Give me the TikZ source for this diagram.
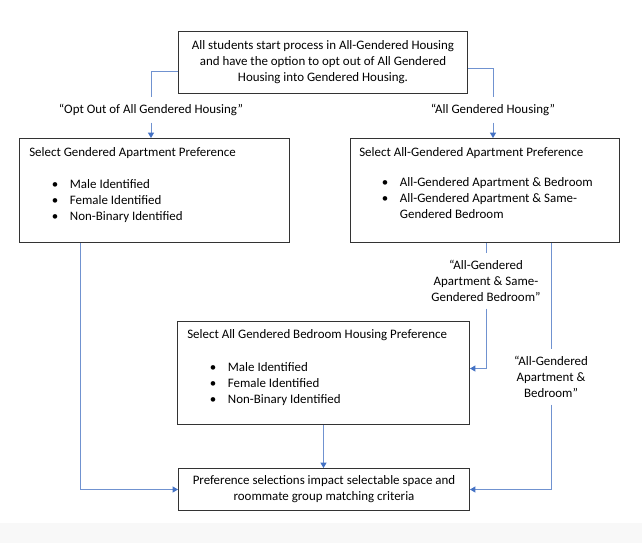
\documentclass[tikz,border=0pt]{standalone}
\usepackage{fontspec}
\setmainfont{Carlito}
\usetikzlibrary{arrows.meta,calc}
\definecolor{conn}{RGB}{112,146,208}
\definecolor{arrowc}{RGB}{68,114,196}
\definecolor{bandgray}{RGB}{248,248,248}
\newcommand\bitem[1]{\hspace*{17pt}\makebox[13.5pt][l]{\textbullet}#1}
\begin{document}
\begin{tikzpicture}[x=0.75pt,y=-0.75pt,
  font=\fontsize{9.7pt}{12pt}\selectfont,
  boxnode/.style={draw=black!80, line width=0.75pt, inner sep=0pt, anchor=north west},
  link/.style={draw=conn, line width=0.7pt},
  arr/.style={link, -{Triangle[width=4.5pt,length=4pt,color=arrowc]}},
  lab/.style={align=center, inner xsep=2pt, inner ysep=5pt},
  body/.style={align=left, inner sep=0pt, anchor=north west}]

\useasboundingbox (0,0) rectangle (642,543);
\fill[bandgray] (0,523) rectangle (642,543);

% boxes
\node[boxnode, minimum width=216.75pt, minimum height=46.5pt, align=center] (T) at (178,31)
  {All students start process in All-Gendered Housing\\and have the option to opt out of All Gendered\\Housing into Gendered Housing.};
\node[boxnode, minimum width=202.5pt, minimum height=78pt] (L) at (19,138) {};
\node[boxnode, minimum width=201.75pt, minimum height=78pt] (R) at (350,138) {};
\node[boxnode, minimum width=219pt, minimum height=77.25pt] (M) at (177,321) {};
\node[boxnode, minimum width=218.25pt, minimum height=31.5pt, align=center] (B) at (178,468)
  {Preference selections impact selectable space and\\roommate group matching criteria};

% box contents
\node[body] (Lt) at ($(L.north west)+(10,9)$)
  {Select Gendered Apartment Preference\\[12pt]
   \bitem{Male Identified}\\
   \bitem{Female Identified}\\
   \bitem{Non-Binary Identified}};
\node[body] (Rt) at ($(R.north west)+(9,9)$)
  {Select All-Gendered Apartment Preference\\[10.5pt]
   \bitem{All-Gendered Apartment \& Bedroom}\\
   \bitem{All-Gendered Apartment \& Same-}\\
   \hspace*{30.5pt}Gendered Bedroom};
\node[body] (Mt) at ($(M.north west)+(10,8)$)
  {Select All Gendered Bedroom Housing Preference\\[12.75pt]
   \bitem{Male Identified}\\
   \bitem{Female Identified}\\
   \bitem{Non-Binary Identified}};

% labels
\node[lab] (l1) at (151,110) {“Opt Out of All Gendered Housing”};
\node[lab] (l2) at (493,110) {“All Gendered Housing”};
\node[lab] (l3) at (486,281) {“All-Gendered\\Apartment \& Same-\\Gendered Bedroom”};
\node[lab] (l4) at (551,377) {“All-Gendered\\Apartment \&\\Bedroom”};

% connectors
\draw[link] ($(T.west)+(0,9)$) -| (l1.north);
\draw[arr] (l1.south) -- (l1.south |- L.north);
\draw[link] ($(T.east)+(0,6)$) -| (l2.north);
\draw[arr] (l2.south) -- (l2.south |- R.north);
\draw[link] (R.south -| l3) -- (l3.north);
\draw[arr] (l3.south) |- ($(M.east)+(0,-4.5)$);
\draw[link] (R.south -| l4) -- (l4.north);
\draw[arr] (l4.south) |- (B.east);
\draw[arr] ($(L.south west)+(61,0)$) |- (B.west);
\draw[arr] (M.south) -- (M.south |- B.north);
\end{tikzpicture}
\end{document}
